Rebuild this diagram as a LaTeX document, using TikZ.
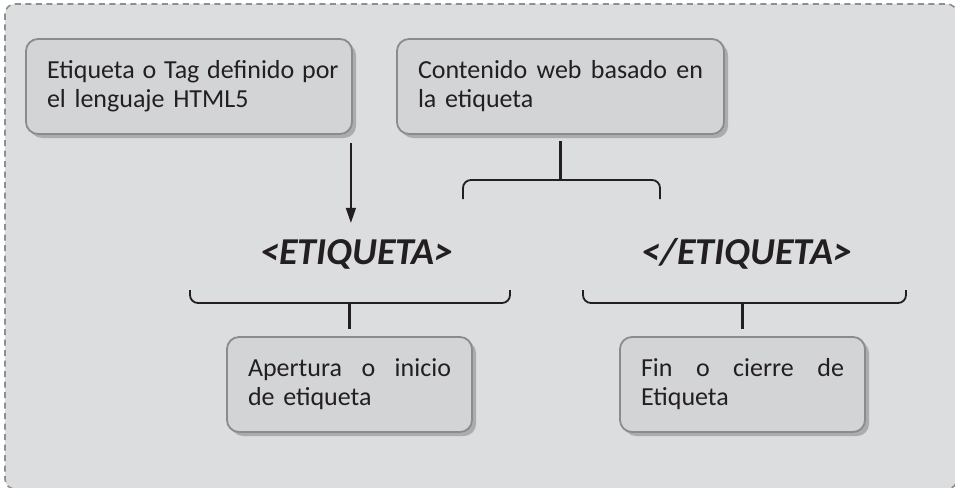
\documentclass[tikz,border=0pt]{standalone}
\usepackage{fontspec}
\setmainfont{Carlito}
\usetikzlibrary{shadows,calc,arrows.meta}
\definecolor{bg}{HTML}{DCDDDF}
\definecolor{dashc}{HTML}{8E8F91}
\definecolor{boxf}{HTML}{D3D4D6}
\definecolor{boxd}{HTML}{8A8B8D}
\definecolor{txt}{HTML}{231F20}
\newcommand{\fullline}[1]{\hbox to \hsize{\spaceskip=0.3em plus 10em\relax #1}}
\tikzset{
  infobox/.style={rounded corners=12pt, draw=boxd, line width=1.8pt, fill=boxf,
    drop shadow={shadow xshift=4pt, shadow yshift=-4pt, fill=black, opacity=0.22},
    inner xsep=21pt, inner ysep=0pt, align=left, minimum height=95pt,
    font=\fontsize{26}{29}\selectfont, text=txt},
  tagtext/.style={font=\fontsize{38}{42}\selectfont\bfseries\itshape, text=txt, inner sep=0pt, anchor=base},
  brk/.style={draw=txt, line width=1.8pt, rounded corners=8pt},
  stem/.style={draw=txt, line width=3.6pt},
}
\begin{document}
\begin{tikzpicture}[x=1pt,y=-1pt]
\useasboundingbox (0,0) rectangle (955,487);
\fill[white] (0,0) rectangle (955,487);
\draw[dashc, fill=bg, line width=1.6pt, dash pattern=on 6pt off 4.5pt, rounded corners=10pt] (5,4) rectangle (957,489);

\node[infobox, text width=284pt] (box1) at (189,86.5) {\fullline{Etiqueta o Tag definido por}\\el lenguaje HTML5};
\node[infobox, text width=285pt] (box2) at (560.5,86.5) {\fullline{Contenido web basado en}\\la etiqueta};
\node[infobox, text width=203pt] (box3) at (349.5,384.5) {\fullline{Apertura o inicio}\\de etiqueta};
\node[infobox, text width=203pt] (box4) at (742.5,384.5) {\fullline{Fin o cierre de}\\Etiqueta};

\node[tagtext] (tagopen) at (357,264) {<ETIQUETA>};
\node[tagtext] (tagclose) at (747,264) {</ETIQUETA>};

% arrow from box1 to opening tag
\draw[txt, line width=1.3pt, -{Triangle[length=15pt,width=10pt]}] ($(box1.south east)+(-2,8)$) -- ($(box1.south east)+(-2,88)$);

% top bracket
\coordinate (topbr) at (560.5,180);
\draw[stem] ($(box2.south)+(0,6)$) -- (topbr);
\draw[brk] (463,199) -- (463,180) -- (660,180) -- (660,199);

% bottom left bracket
\coordinate (lbr) at (349.5,303);
\draw[brk] (190,290) -- (190,303) -- (510,303) -- (510,290);
\draw[stem] (lbr) -- ($(box3.north)+(0,-7)$);

% bottom right bracket
\coordinate (rbr) at (742.5,303);
\draw[brk] (583,290) -- (583,303) -- (906,303) -- (906,290);
\draw[stem] (rbr) -- ($(box4.north)+(0,-7)$);
\end{tikzpicture}
\end{document}
